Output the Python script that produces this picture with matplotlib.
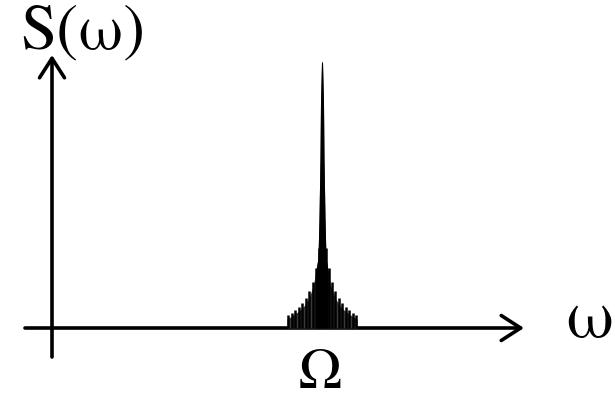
import numpy as np
import matplotlib
matplotlib.use("Agg")
import matplotlib.pyplot as plt

# spectrum (x in px, height above the omega axis in px)
omega_c = 322
# main spike envelope: offset from Omega and height
spike_offset = [-35, -30, -23, -18, -13, -8.5, -6, -4, -3, -2, -1.5, -0.5,
                0.5, 1.5, 2, 3, 4, 6, 8.5, 13, 18, 23, 30, 35]
spike_height = [9, 12, 17, 22, 30, 43, 58, 70, 110, 170, 225, 266,
                266, 225, 170, 110, 70, 58, 43, 30, 22, 17, 12, 9]
# side-lobe stems
lobe_offset = [-34, -30.5, -27, -23.5, -20, -16.5, -13, -9.5, -6.5, -3.5,
               3.5, 6.5, 9.5, 13, 16.5, 20, 23.5, 27, 30.5, 34]
lobe_height = [13, 15, 18, 21, 25, 30, 37, 46, 60, 80,
               80, 60, 46, 37, 30, 25, 21, 18, 15, 13]

plt.rcParams["font.family"] = ["TeX Gyre Termes", "Liberation Serif", "DejaVu Serif"]

fig = plt.figure(figsize=(6.15, 3.99), dpi=100)
ax = fig.add_axes([0, 0, 1, 1])
ax.set_xlim(0, 615)
ax.set_ylim(-71, 328)
ax.axis("off")

# axes with arrows
arrow = dict(arrowstyle="->,head_length=0.7,head_width=0.45", lw=2.6,
             color="black", mutation_scale=20, shrinkA=0, shrinkB=0)
ax.annotate("", xy=(524, 0), xytext=(25, 0), arrowprops=arrow)
ax.annotate("", xy=(52, 273), xytext=(52, -29), arrowprops=arrow)

# spectrum
xs = omega_c + np.array(spike_offset)
ax.fill_between(xs, 0, spike_height, color="#3a3a3a", lw=0, zorder=3)
ax.vlines(omega_c + np.array(lobe_offset), 0, lobe_height, color="black",
          lw=1.8, zorder=4)
core = [i for i, o in enumerate(spike_offset) if abs(o) <= 6]
ax.fill_between(xs[core], 0, np.array(spike_height)[core], color="black",
                lw=0, zorder=5)

ax.text(20, 280, "S(ω)", fontsize=47, ha="left", va="baseline")
ax.text(589, -9, "ω", fontsize=50, ha="center", va="baseline")
ax.text(320, -60, "Ω", fontsize=42, ha="center", va="baseline")

fig.savefig("out.png", dpi=100)
